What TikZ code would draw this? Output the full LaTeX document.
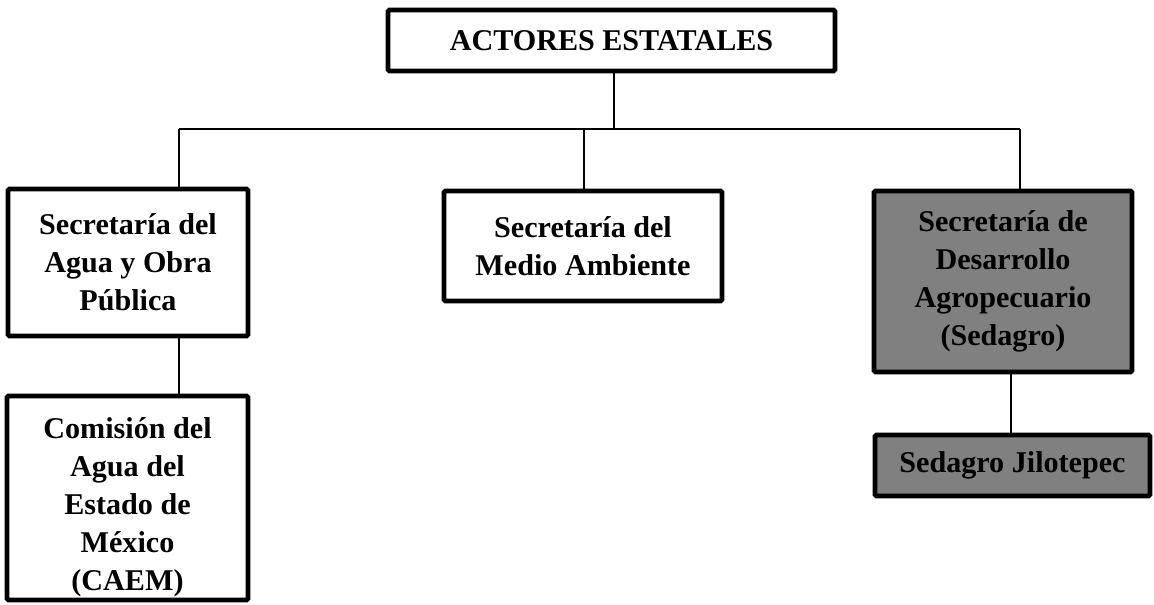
\documentclass[tikz,border=0pt]{standalone}
\usepackage{fontspec}
\setmainfont{Liberation Serif}
\definecolor{boxgrey}{HTML}{808080}
\begin{document}
\begin{tikzpicture}[x=0.75pt,y=-0.75pt,
  box/.style={draw=black, line width=3.5pt, rounded corners=1pt, fill=white,
    outer sep=0pt, inner sep=0pt, align=center,
    font=\bfseries\fontsize{22.6pt}{28.5pt}\selectfont},
  greybox/.style={box, fill=boxgrey},
  conn/.style={draw=black, line width=2.2pt}]
\useasboundingbox (0,0) rectangle (1154,604);

\node[box, minimum width=335.25pt, minimum height=45.75pt] (actores) at (611.5,40.5) {ACTORES ESTATALES};
\node[box, minimum width=180pt, minimum height=110.25pt] (sapa) at (128,262.5) {Secretaría del\\Agua y Obra\\Pública};
\node[box, minimum width=208.5pt, minimum height=82.5pt] (sma) at (583,246) {Secretaría del\\Medio Ambiente};
\node[greybox, minimum width=193.5pt, minimum height=135.75pt] (sedagro) at (1003,281.5) {Secretaría de\\Desarrollo\\Agropecuario\\(Sedagro)};
\node[box, minimum width=180.75pt, minimum height=153pt,
  path picture={\node[align=center, inner sep=0pt, font=\bfseries\fontsize{22.6pt}{28.5pt}\selectfont] (caemtext) at ([yshift=-7pt]path picture bounding box.center) {Comisión del\\Agua del\\Estado de\\México\\(CAEM)};}] (caem) at (127.5,498) {};
\node[greybox, minimum width=206.25pt, minimum height=45.75pt] (jilo) at (1012.5,465.5) {Sedagro Jilotepec};

\coordinate (bus) at (614,129);
\coordinate (busL) at (179,129);
\coordinate (busM) at (584,129);
\coordinate (busR) at (1020,129);
\coordinate (lowL) at (179,0);
\coordinate (lowR) at (1011,0);

\draw[conn] (actores.south -| bus) -- (bus);
\draw[conn] (busL) -- (busR);
\draw[conn] (busL) -- (sapa.north -| busL);
\draw[conn] (busM) -- (sma.north -| busM);
\draw[conn] (busR) -- (sedagro.north -| busR);
\draw[conn] (sapa.south -| lowL) -- (caem.north -| lowL);
\draw[conn] (sedagro.south -| lowR) -- (jilo.north -| lowR);
\end{tikzpicture}
\end{document}
